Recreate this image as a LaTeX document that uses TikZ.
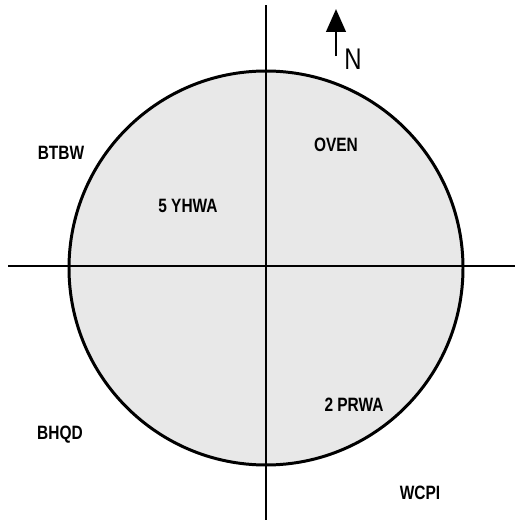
\documentclass[tikz,border=0pt]{standalone}
\usepackage{fontspec}
\setmainfont{Liberation Sans}[FakeStretch=0.8]
\usetikzlibrary{arrows.meta}
\definecolor{zonegray}{RGB}{232,232,232}

\begin{document}
\begin{tikzpicture}[x=0.02cm,y=-0.02cm,
      lbl/.style={font=\bfseries\fontsize{11}{12}\selectfont,inner sep=0pt},
      axis/.style={line width=0.9pt}]
  \useasboundingbox (0,0) rectangle (522,524);
  % zone circle
  \node[circle,draw,line width=1.7pt,fill=zonegray,minimum size=394*0.02cm,inner sep=0pt] (zone) at (266,268) {};
  % cross hairs
  \coordinate (west) at (8,266);
  \coordinate (east) at (515,266);
  \coordinate (north) at (266,5);
  \coordinate (south) at (266,520);
  \draw[axis] (west) -- (east);
  \draw[axis] (north) -- (south);
  % north arrow
  \coordinate (tail) at (336,56);
  \coordinate (tip) at (336,9);
  \draw[line width=1.7pt,-{Triangle[length=13pt,width=11pt]}] (tail) -- (tip);
  \node[font=\fontsize{17}{18}\selectfont,inner sep=0pt] (nlbl) at (353,59) {N};
  % labels
  \node[lbl] (btbw) at (61,153) {BTBW};
  \node[lbl] (oven) at (336,145) {OVEN};
  \node[lbl] (yhwa) at (188,206) {5 YHWA};
  \node[lbl] (prwa) at (354,405) {2 PRWA};
  \node[lbl] (bhqd) at (60,435) {BHQD};
  \node[lbl] (wcpi) at (420,493) {WCPI};
\end{tikzpicture}
\end{document}
